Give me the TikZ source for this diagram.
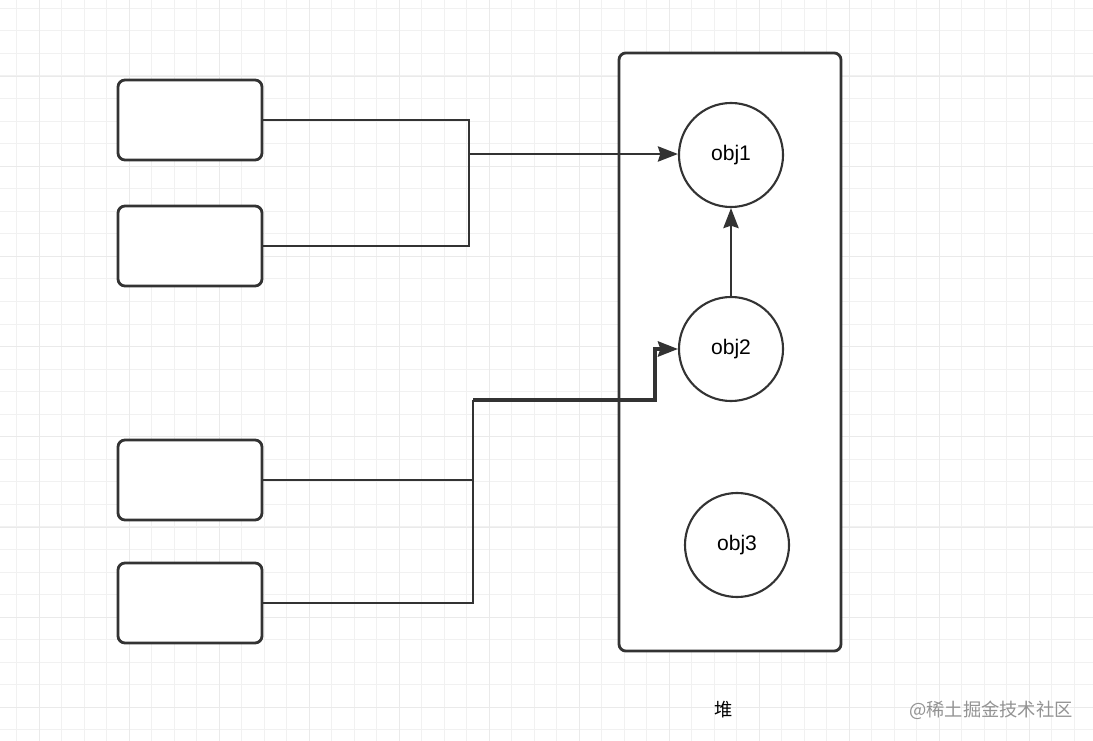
\documentclass[tikz,border=0pt]{standalone}
\usepackage{fontspec}
\setmainfont{Liberation Sans}
\newfontfamily\cjk{Noto Sans CJK SC}
\usetikzlibrary{arrows.meta}
\definecolor{gridminor}{HTML}{F1F1F1}
\definecolor{gridmajor}{HTML}{EAEAEA}
\definecolor{ink}{HTML}{333333}
\tikzset{
  ref/.style={draw=ink,line width=2pt,rounded corners=5pt,fill=white,
    minimum width=3.6cm,minimum height=2cm},
  obj/.style={circle,draw=ink,line width=1.5pt,fill=white,minimum size=2.6cm,
    font=\fontsize{15}{18}\selectfont},
  link/.style={draw=ink,line width=1.8pt},
  arr/.style={link,-{Stealth[length=5mm,width=3.8mm,inset=0.6mm]}}
}
\begin{document}
\begin{tikzpicture}[x=0.025cm,y=-0.025cm]
\useasboundingbox (0,0) rectangle (1093,741);
\fill[white] (0,0) rectangle (1093,741);
% grid
\foreach \i in {0,...,48}
  \draw[gridminor,line width=0.7pt] ({16.7+22.5*\i},0) -- ++(0,741);
\foreach \i in {0,...,32}
  \draw[gridminor,line width=0.7pt] (0,{8.3+22.55*\i}) -- ++(1093,0);
\foreach \i in {0,...,12}
  \draw[gridmajor,line width=0.7pt] ({39.2+90*\i},0) -- ++(0,741);
\foreach \i in {0,...,7}
  \draw[gridmajor,line width=0.7pt] (0,{76+90.2*\i}) -- ++(1093,0);
% heap
\node[draw=ink,line width=2pt,rounded corners=5pt,fill=white,
  minimum width=5.55cm,minimum height=14.95cm] (heap) at (730,352) {};
\node[font=\cjk\fontsize{13}{15}\selectfont] (heaplbl) at (724,710) {堆};
\node[obj] (o1) at (731,155) {obj1};
\node[obj] (o2) at (731,349) {obj2};
\node[obj] (o3) at (737,545) {obj3};
% references
\node[ref] (b1) at (190,120) {};
\node[ref] (b2) at (190,246) {};
\node[ref] (b3) at (190,480) {};
\node[ref] (b4) at (190,603) {};
\coordinate (j1) at (469,154);
\coordinate (j2) at (473,400);
\coordinate (j3) at (655,400);
\draw[link] (b1.east) -| (j1) |- (b2.east);
\draw[arr] (j1) -- (j1 -| o1.west);
\draw[link] (b3.east) -| (j2);
\draw[link] (b4.east) -| (j2);
\draw[arr,line width=2.4pt] (j2) -- (j3) |- (o2.west);
\draw[arr] (o2) -- (o1);
\node[text=gray!85,font=\cjk\fontsize{13}{15}\selectfont] (mark) at (991,710) {@稀土掘金技术社区};
\end{tikzpicture}
\end{document}
